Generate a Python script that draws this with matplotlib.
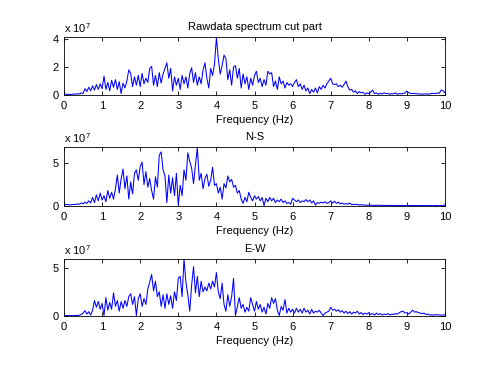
import numpy as np
import matplotlib
matplotlib.use("Agg")
import matplotlib.pyplot as plt

# Spectrum amplitudes in units of 1e7, sampled every 0.05 Hz from 0 to 10 Hz
raw_vals = [
    0.05, 0.06, 0.04, 0.05, 0.03, 0.08, 0.05, 0.10, 0.06, 0.15,
    0.10, 0.45, 0.25, 0.55, 0.30, 0.65, 0.35, 0.75, 0.40, 0.80,
    0.45, 1.35, 0.40, 0.90, 0.30, 1.05, 0.55, 1.10, 0.40, 0.95,
    0.10, 0.85, 0.50, 1.00, 1.80, 1.55, 0.60, 1.30, 0.70, 1.40,
    0.60, 1.55, 0.80, 1.20, 0.90, 1.90, 2.05, 0.70, 1.40, 0.60,
    1.60, 0.85, 1.50, 1.90, 2.30, 1.20, 1.90, 0.30, 1.30, 0.70,
    1.20, 0.40, 1.40, 0.80, 1.30, 0.50, 1.50, 1.95, 0.90, 1.60,
    0.70, 1.30, 0.80, 1.80, 2.30, 1.20, 0.50, 1.90, 1.40, 2.20,
    4.10, 2.60, 1.50, 2.10, 2.85, 2.60, 1.10, 1.80, 0.70, 2.00,
    2.10, 1.20, 1.90, 0.50, 1.50, 0.80, 1.30, 0.40, 1.20, 0.70,
    1.40, 1.70, 0.90, 1.20, 0.60, 1.10, 0.70, 1.70, 1.50, 1.60,
    0.60, 1.00, 0.40, 1.30, 0.80, 1.00, 0.50, 0.90, 0.70, 0.80,
    0.60, 0.90, 1.10, 0.60, 0.80, 0.40, 0.70, 0.30, 0.50, 0.10,
    0.40, 0.20, 0.50, 0.15, 0.60, 0.40, 0.70, 0.50, 0.80, 1.00,
    1.20, 0.80, 0.75, 0.80, 0.60, 0.70, 0.55, 0.75, 1.00, 0.60,
    0.35, 0.40, 0.20, 0.30, 0.10, 0.25, 0.15, 0.20, 0.05, 0.15,
    0.10, 0.20, 0.35, 0.10, 0.15, 0.05, 0.12, 0.08, 0.15, 0.10,
    0.12, 0.05, 0.10, 0.08, 0.15, 0.05, 0.10, 0.08, 0.12, 0.15,
    0.28, 0.15, 0.12, 0.10, 0.12, 0.08, 0.10, 0.05, 0.08, 0.06,
    0.10, 0.05, 0.08, 0.10, 0.12, 0.10, 0.15, 0.12, 0.35, 0.30,
    0.15,
]

ns_vals = [
    0.20, 0.15, 0.18, 0.12, 0.15, 0.20, 0.15, 0.25, 0.20, 0.35,
    0.25, 0.45, 0.30, 0.60, 0.35, 1.00, 0.40, 1.30, 0.60, 1.50,
    0.70, 1.20, 0.50, 1.80, 0.90, 1.60, 0.80, 2.00, 3.60, 1.50,
    3.20, 4.30, 2.00, 3.50, 0.80, 2.80, 1.40, 3.80, 4.20, 3.00,
    4.60, 5.10, 2.50, 4.00, 2.20, 3.20, 1.80, 0.80, 3.40, 2.20,
    5.90, 6.30, 4.20, 3.50, 0.40, 3.60, 1.50, 3.30, 1.20, 3.80,
    0.10, 2.40, 1.20, 4.20, 3.00, 6.20, 5.20, 4.40, 2.60, 4.80,
    6.80, 3.00, 3.80, 2.00, 3.20, 3.70, 2.30, 3.00, 4.50, 2.40,
    2.60, 1.50, 2.20, 0.80, 2.60, 2.10, 3.50, 2.80, 3.10, 2.20,
    2.40, 1.50, 1.80, 0.80, 0.30, 1.00, 0.50, 1.60, 1.00, 0.60,
    1.20, 0.80, 1.10, 0.60, 1.00, 0.05, 0.90, 0.50, 1.00, 0.60,
    0.90, 0.40, 0.70, 0.50, 0.80, 0.40, 0.60, 0.30, 0.40, 0.20,
    0.90, 0.70, 0.50, 0.70, 0.40, 0.60, 0.50, 0.75, 0.50, 0.70,
    0.35, 0.60, 0.10, 0.40, 0.30, 0.45, 0.35, 0.50, 0.30, 0.40,
    0.60, 0.35, 0.55, 0.30, 0.45, 0.25, 0.35, 0.20, 0.30, 0.20,
    0.35, 0.15, 0.20, 0.15, 0.20, 0.10, 0.15, 0.10, 0.12, 0.08,
    0.10, 0.08, 0.10, 0.06, 0.09, 0.07, 0.10, 0.06, 0.08, 0.05,
    0.07, 0.06, 0.08, 0.05, 0.07, 0.06, 0.05, 0.07, 0.05, 0.06,
    0.04, 0.06, 0.05, 0.07, 0.05, 0.06, 0.04, 0.05, 0.06, 0.04,
    0.05, 0.06, 0.04, 0.05, 0.04, 0.06, 0.05, 0.04, 0.05, 0.04,
    0.15,
]

ew_vals = [
    0.05, 0.04, 0.05, 0.04, 0.05, 0.04, 0.06, 0.05, 0.08, 0.15,
    0.30, 0.55, 0.20, 0.45, 0.10, 0.60, 1.60, 0.90, 1.50, 0.70,
    1.30, 0.05, 1.90, 0.60, 1.40, 0.70, 2.40, 1.00, 1.60, 0.50,
    1.50, 0.80, 1.60, 1.00, 2.00, 2.30, 1.20, 2.00, 0.05, 1.80,
    2.30, 1.00, 1.80, 1.20, 2.80, 3.50, 4.30, 2.60, 3.60, 2.00,
    2.50, 1.00, 2.20, 0.80, 2.30, 1.20, 2.10, 0.80, 2.50, 1.60,
    3.90, 4.10, 2.00, 5.90, 3.50, 2.20, 0.50, 3.20, 5.10, 2.40,
    4.10, 2.00, 3.60, 2.50, 3.00, 2.60, 3.40, 2.80, 3.60, 3.00,
    4.50, 2.50, 1.80, 3.40, 1.20, 0.50, 2.20, 1.00, 2.00, 3.90,
    0.05, 1.00, 1.90, 0.80, 1.20, 0.40, 0.90, 0.50, 1.90, 1.20,
    0.50, 1.50, 0.70, 1.20, 0.40, 0.90, 0.20, 1.30, 0.80, 1.90,
    1.30, 1.80, 0.60, 0.05, 1.00, 0.60, 1.70, 0.30, 0.80, 0.40,
    0.70, 0.30, 0.80, 0.40, 0.70, 0.30, 0.80, 0.40, 0.60, 0.20,
    0.70, 0.30, 0.50, 0.40, 0.60, 0.30, 0.05, 0.30, 0.40, 0.50,
    0.90, 0.60, 0.70, 0.50, 0.65, 0.40, 0.55, 0.30, 0.50, 0.25,
    0.45, 0.20, 0.40, 0.30, 0.50, 0.20, 0.35, 0.15, 0.30, 0.20,
    0.35, 0.15, 0.25, 0.10, 0.30, 0.15, 0.25, 0.10, 0.20, 0.15,
    0.25, 0.10, 0.20, 0.15, 0.25, 0.20, 0.35, 0.45, 0.50, 0.30,
    0.35, 0.20, 0.40, 0.60, 0.40, 0.45, 0.35, 0.30, 0.25, 0.30,
    0.15, 0.20, 0.10, 0.12, 0.08, 0.15, 0.10, 0.12, 0.08, 0.10,
    0.12,
]

titles = ["Rawdata spectrum cut part", "N-S", "E-W"]
series = [raw_vals, ns_vals, ew_vals]
ylims = [4.15, 6.87, 5.9]
yticks_list = [[0, 2, 4], [0, 5], [0, 5]]
xticks = list(range(0, 11))
xlabel = "Frequency (Hz)"
scale_label = r"x 10$^{7}$"

plt.rcParams['font.family'] = ['Liberation Sans', 'DejaVu Sans']
plt.rcParams['mathtext.fontset'] = 'custom'
plt.rcParams['mathtext.rm'] = 'Liberation Sans'

fig = plt.figure(figsize=(4.92, 3.70), dpi=100)
fig.patch.set_facecolor('white')

left = 64 / 492
width = (445 - 64) / 492
boxes = [(37, 95), (147, 206), (259, 316)]

for k in range(3):
    top, bot = boxes[k]
    ax = fig.add_axes([left, 1 - bot / 370, width, (bot - top) / 370])
    vals = np.array(series[k])
    freq = np.linspace(0, 10, len(vals))
    ax.plot(freq, vals, color=(0, 0, 1), linewidth=0.75)
    ax.set_xlim(0, 10)
    ax.set_ylim(0, ylims[k])
    ax.set_xticks(xticks)
    ax.set_yticks(yticks_list[k])
    ax.tick_params(direction='in', top=True, right=True, length=3,
                   width=0.6, labelsize=8, pad=4)
    for s in ax.spines.values():
        s.set_linewidth(0.6)
    ax.set_title(titles[k], fontsize=8, pad=5)
    ax.set_xlabel(xlabel, fontsize=8, labelpad=3)
    ax.text(0.0, 1.04, scale_label, transform=ax.transAxes,
            ha='left', va='bottom', fontsize=8)

fig.savefig("out.png", dpi=100, facecolor='white')
